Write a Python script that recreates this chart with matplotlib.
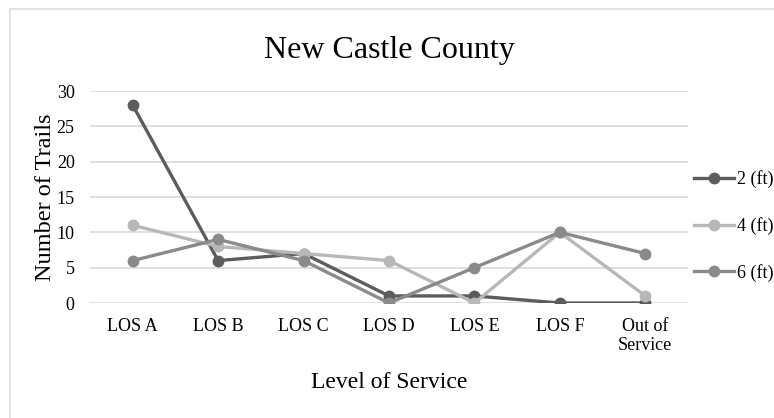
import matplotlib.pyplot as plt
from matplotlib.patches import Rectangle

categories = ['LOS A', 'LOS B', 'LOS C', 'LOS D', 'LOS E', 'LOS F', 'Out of\nService']
ft2 = [28, 6, 7, 1, 1, 0, 0]
ft4 = [11, 8, 7, 6, 0, 10, 1]
ft6 = [6, 9, 6, 0, 5, 10, 7]

plt.rcParams['font.family'] = ['Liberation Serif', 'DejaVu Serif']

fig = plt.figure(figsize=(7.74, 4.18), dpi=100)
# light chart-area border
fig.patches.append(Rectangle((10 / 774, -0.01), 1, 1 - 9 / 418 + 0.01, transform=fig.transFigure,
                             fill=False, edgecolor='#e3e3e3', linewidth=1.5))

ax = fig.add_axes([90 / 774, 1 - 303 / 418, 598 / 774, 212 / 418])

x = range(len(categories))
series = [(ft2, '#5c5c5c', '2 (ft)'), (ft4, '#b8b8b8', '4 (ft)'), (ft6, '#8a8a8a', '6 (ft)')]
handles = []
for vals, col, lab in series:
    h, = ax.plot(x, vals, color=col, linewidth=2.4, marker='o', markersize=7.5, label=lab)
    handles.append(h)

ax.set_xlim(-0.5, len(categories) - 0.5)
ax.set_ylim(0, 30)
ax.set_yticks(range(0, 31, 5))
ax.set_xticks(list(x))
ax.set_xticklabels(categories, fontsize=13, linespacing=1.15)
ax.tick_params(axis='y', labelsize=13, length=0, pad=11)
ax.tick_params(axis='x', length=0, pad=11)
ax.grid(axis='y', color='#dcdcdc', linewidth=1.3)
ax.set_axisbelow(True)
for s in ax.spines.values():
    s.set_visible(False)
ax.patch.set_alpha(0)

ax.set_title('New Castle County', fontsize=23, pad=24)
ax.set_xlabel('Level of Service', fontsize=17)
ax.xaxis.set_label_coords(0.5, -0.325)
ax.set_ylabel('Number of Trails', fontsize=17.5)
ax.yaxis.set_label_coords(-0.057, 0.5)

fig.legend(handles=handles, loc='center left', bbox_to_anchor=(694 / 774, 1 - 226 / 418),
           frameon=False, fontsize=13, handlelength=2.2, handletextpad=0.2,
           labelspacing=1.6, borderaxespad=0, borderpad=0)

fig.savefig('out.png', dpi=100)
